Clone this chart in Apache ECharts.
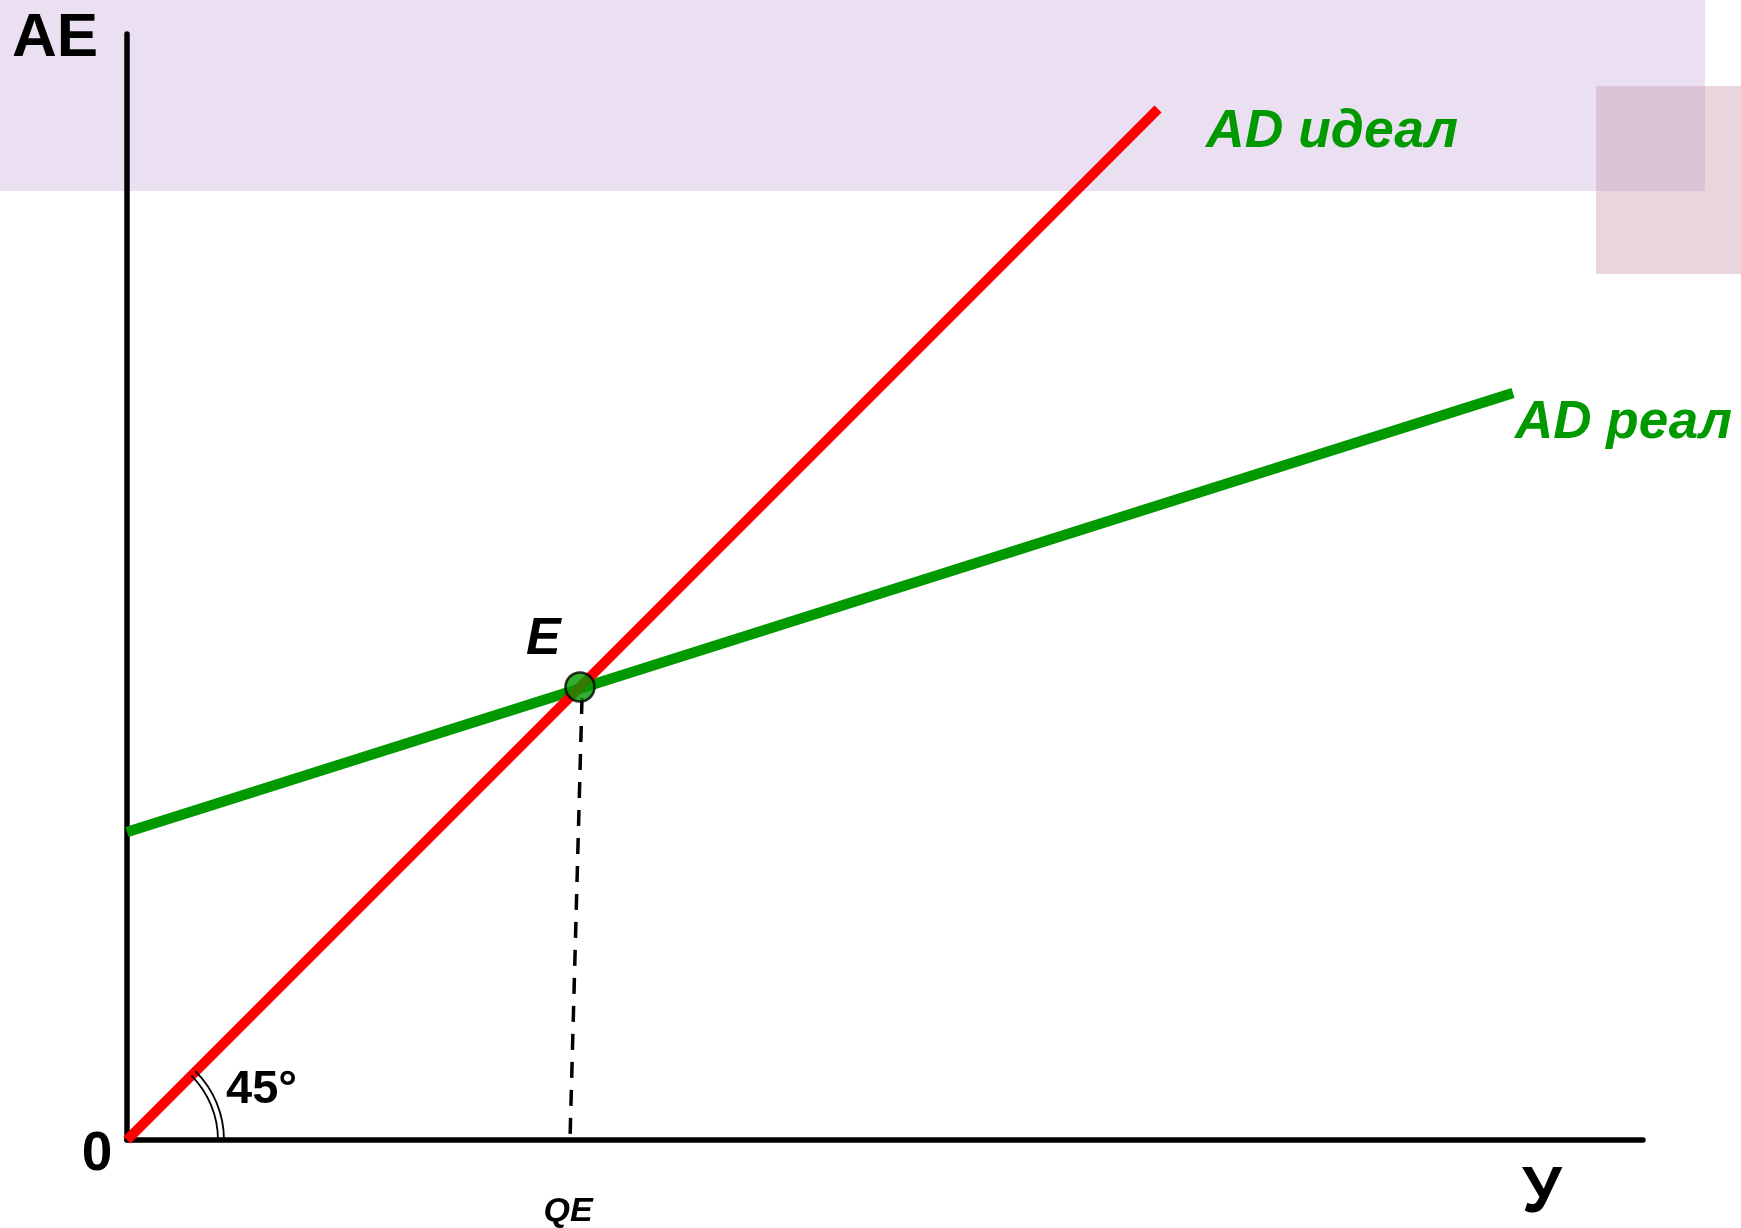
<!DOCTYPE html>
<html>
<head>
<meta charset="utf-8">
<script src="https://cdn.jsdelivr.net/npm/echarts@6/dist/echarts.min.js"></script>
<style>
  html, body { margin: 0; padding: 0; background: #fff; }
  #chart { width: 1741px; height: 1228px; }
</style>
</head>
<body>
<div id="chart"></div>
<script>
// 45-degree line (ideal aggregate demand) and real aggregate demand
const adIdeal = [[0, 0], [103.1, 103.1]]
const adReal = [[0, 30.8], [138.6, 74.7]]
// equilibrium point E and the drop to QE
const pointE = [[45.3, 45.3]]
const dropE = [[45.5, 44.2], [44.3, 0]]
// angle marker radii (in axis units)
const arcRadii = [9.1, 9.7]

const FONT = 'Liberation Sans, Arial, sans-serif'
const GREEN = '#009a00'

const chart = echarts.init(document.getElementById('chart'))

const option = {
  animation: false,
  backgroundColor: '#fff',
  graphic: [
    // background bands
    { type: 'rect', z: -10, shape: { x: 0, y: 0, width: 1705, height: 191 }, style: { fill: '#ebdff2' } },
    { type: 'rect', z: -9, shape: { x: 1596, y: 86, width: 145, height: 188 }, style: { fill: 'rgba(204,162,180,0.45)' } },
    // labels
    { type: 'text', z: 10, style: { text: 'AE', x: 12, y: 39, font: 'bold 62px ' + FONT, fill: '#000', verticalAlign: 'middle' } },
    { type: 'text', z: 10, style: { text: '0', x: 97, y: 1155, font: 'bold 55px ' + FONT, fill: '#000', align: 'center', verticalAlign: 'middle' } },
    { type: 'text', z: 10, style: { text: '45°', x: 226, y: 1090, font: 'bold 47px ' + FONT, fill: '#000', verticalAlign: 'middle' } },
    { type: 'text', z: 10, style: { text: 'E', x: 526, y: 640, font: 'italic bold 52px ' + FONT, fill: '#000', verticalAlign: 'middle' } },
    { type: 'text', z: 10, style: { text: 'QE', x: 568, y: 1212, font: 'italic bold 34px ' + FONT, fill: '#000', align: 'center', verticalAlign: 'middle' } },
    { type: 'text', z: 10, style: { text: 'У', x: 1542, y: 1194, font: 'bold 64px ' + FONT, fill: '#000', align: 'center', verticalAlign: 'middle' } }
  ],
  grid: { left: 127, top: 34, right: 98, bottom: 88 },
  xAxis: {
    type: 'value', min: 0, max: 151.6,
    axisLine: { show: true, onZero: false, lineStyle: { color: '#000', width: 5.5 } },
    axisTick: { show: false }, axisLabel: { show: false }, splitLine: { show: false }
  },
  yAxis: {
    type: 'value', min: 0, max: 110.6,
    axisLine: { show: true, onZero: false, lineStyle: { color: '#000', width: 5.5 } },
    axisTick: { show: false }, axisLabel: { show: false }, splitLine: { show: false }
  },
  series: [
    {
      name: 'AD идеал',
      type: 'line',
      data: adIdeal,
      symbol: 'none',
      z: 3,
      lineStyle: { color: '#ff0000', width: 10 },
      endLabel: {
        show: true, formatter: '{a}', offset: [40, 23],
        color: GREEN, fontFamily: FONT, fontSize: 53.5, fontWeight: 'bold', fontStyle: 'italic'
      }
    },
    {
      name: 'AD реал',
      type: 'line',
      data: adReal,
      symbol: 'none',
      z: 2,
      lineStyle: { color: GREEN, width: 10.5 },
      endLabel: {
        show: true, formatter: '{a}', offset: [-6, 30],
        color: GREEN, fontFamily: FONT, fontSize: 53, fontWeight: 'bold', fontStyle: 'italic'
      }
    },
    {
      name: 'drop',
      type: 'line',
      data: dropE,
      symbol: 'none',
      z: 1,
      lineStyle: { color: '#000', width: 3.5, type: [16, 12] }
    },
    {
      name: 'E',
      type: 'scatter',
      data: pointE,
      symbol: 'circle',
      symbolSize: 29,
      z: 5,
      itemStyle: { color: GREEN, borderColor: '#000', borderWidth: 2.5 }
    },
    {
      name: 'angle',
      type: 'custom',
      data: [[0, 0]],
      z: 4,
      renderItem: function (params, api) {
        const c = api.coord([api.value(0), api.value(1)])
        return {
          type: 'group',
          children: arcRadii.map(function (r) {
            return {
              type: 'arc',
              shape: { cx: c[0], cy: c[1], r: api.size([r, r])[0], startAngle: -Math.PI / 4, endAngle: 0 },
              style: { stroke: '#000', fill: null, lineWidth: 1.8 }
            }
          })
        }
      }
    }
  ]
}

chart.setOption(option)
</script>
</body>
</html>
